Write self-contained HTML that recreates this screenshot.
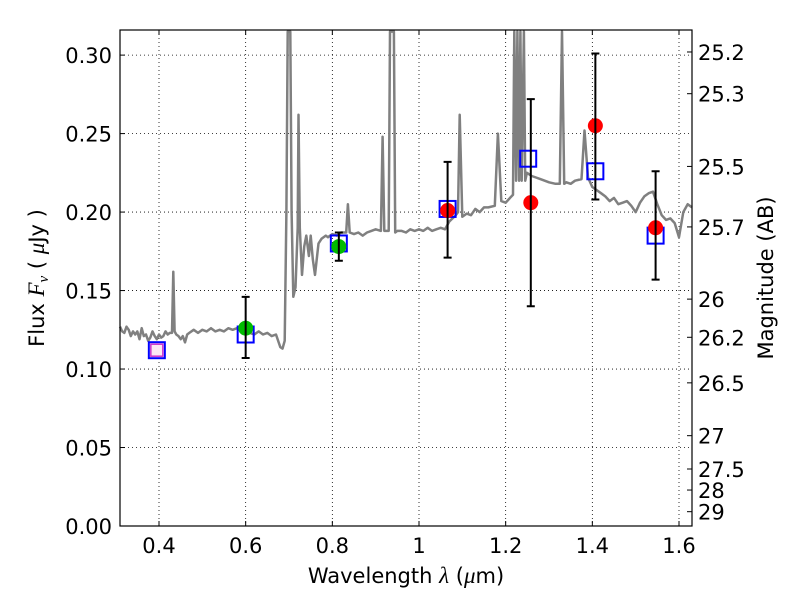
<!DOCTYPE html>
<html><head><meta charset="utf-8">
<style>
body{margin:0;background:#fff;}
svg{display:block;font-family:"DejaVu Sans","Liberation Sans",sans-serif;}
</style></head>
<body>
<svg id="chart" width="800" height="600" viewBox="0 0 800 600" xmlns="http://www.w3.org/2000/svg">
<rect width="800" height="600" fill="#fff"/>
<g id="grid"></g>
<g id="spec"></g>
<g id="marks"></g>
<rect x="120" y="30" width="572" height="496" fill="none" stroke="#000" stroke-width="1.2"/>
<g id="axes" font-size="21" fill="#000"></g>
<text x="406" y="583" font-size="21" text-anchor="middle">Wavelength  <tspan font-style="italic" font-family="Liberation Serif, serif" font-size="23">λ</tspan> (<tspan font-style="italic" font-family="Liberation Serif, serif" font-size="23">μ</tspan>m)</text>
<text transform="translate(44,278) rotate(-90)" font-size="21" text-anchor="middle">Flux  <tspan font-style="italic" font-family="Liberation Serif, serif" font-size="23">F</tspan><tspan font-style="italic" font-family="Liberation Serif, serif" font-size="15" dy="4">ν</tspan><tspan dy="-4">  (  </tspan><tspan font-style="italic" font-family="Liberation Serif, serif" font-size="23">μ</tspan>Jy )</text>
<text transform="translate(773,278) rotate(-90)" font-size="21" text-anchor="middle">Magnitude (AB)</text>
</svg>
<script>
const xTicks=[0.4,0.6,0.8,1.0,1.2,1.4,1.6];
const xTickLabels=["0.4","0.6","0.8","1","1.2","1.4","1.6"];
const yTicks=[0,0.05,0.10,0.15,0.20,0.25,0.30];
const yTickLabels=["0.00","0.05","0.10","0.15","0.20","0.25","0.30"];
const magTicks=[25.2,25.3,25.5,25.7,26,26.2,26.5,27,27.5,28,29];
const magTickLabels=["25.2","25.3","25.5","25.7","26","26.2","26.5","27","27.5","28","29"];
const specLam=[0.31,0.315,0.32,0.325,0.33,0.335,0.34,0.345,0.35,0.355,0.36,0.365,0.37,0.375,0.38,0.385,0.39,0.395,0.40,0.405,0.41,0.415,0.42,0.425,0.43,0.433,0.436,0.44,0.445,0.45,0.455,0.46,0.465,0.47,0.48,0.49,0.50,0.51,0.52,0.53,0.54,0.55,0.56,0.57,0.58,0.59,0.60,0.61,0.62,0.63,0.64,0.65,0.66,0.67,0.68,0.685,0.69,0.694,0.697,0.703,0.706,0.71,0.715,0.72,0.722,0.725,0.73,0.735,0.74,0.746,0.75,0.755,0.76,0.768,0.775,0.785,0.79,0.80,0.81,0.82,0.832,0.836,0.84,0.85,0.86,0.87,0.88,0.89,0.90,0.912,0.916,0.92,0.93,0.933,0.942,0.945,0.95,0.96,0.97,0.98,0.99,1.0,1.01,1.02,1.03,1.04,1.05,1.06,1.07,1.085,1.09,1.094,1.10,1.11,1.12,1.13,1.14,1.15,1.16,1.175,1.182,1.19,1.20,1.21,1.217,1.22,1.224,1.227,1.231,1.234,1.237,1.242,1.245,1.249,1.26,1.27,1.28,1.29,1.30,1.315,1.325,1.33,1.335,1.34,1.35,1.36,1.375,1.382,1.39,1.40,1.41,1.42,1.43,1.44,1.45,1.46,1.47,1.48,1.49,1.50,1.51,1.52,1.53,1.54,1.55,1.56,1.57,1.58,1.59,1.60,1.61,1.62,1.63];
const specFlux=[0.127,0.124,0.123,0.127,0.125,0.121,0.124,0.122,0.124,0.119,0.126,0.121,0.122,0.118,0.120,0.124,0.121,0.119,0.122,0.120,0.121,0.124,0.122,0.123,0.123,0.162,0.124,0.122,0.121,0.119,0.121,0.117,0.122,0.123,0.125,0.123,0.125,0.124,0.126,0.124,0.125,0.124,0.126,0.125,0.126,0.124,0.127,0.123,0.122,0.124,0.122,0.123,0.121,0.122,0.114,0.113,0.118,0.2,0.315,0.315,0.2,0.146,0.152,0.19,0.262,0.19,0.16,0.178,0.185,0.172,0.185,0.17,0.16,0.18,0.183,0.185,0.184,0.186,0.185,0.187,0.187,0.205,0.187,0.186,0.187,0.185,0.187,0.188,0.189,0.188,0.248,0.188,0.188,0.315,0.315,0.187,0.188,0.188,0.187,0.189,0.188,0.189,0.188,0.190,0.188,0.189,0.190,0.189,0.194,0.198,0.200,0.262,0.197,0.199,0.198,0.202,0.200,0.203,0.203,0.204,0.250,0.207,0.206,0.209,0.211,0.315,0.22,0.315,0.22,0.315,0.22,0.315,0.22,0.225,0.223,0.222,0.221,0.220,0.219,0.218,0.218,0.315,0.218,0.219,0.218,0.220,0.221,0.252,0.222,0.216,0.214,0.212,0.210,0.207,0.209,0.205,0.206,0.207,0.204,0.200,0.206,0.210,0.212,0.213,0.205,0.198,0.195,0.196,0.193,0.184,0.200,0.205,0.203,0.204];
const boxLam=[0.395,0.60,0.815,1.066,1.252,1.407,1.546];
const boxFlux=[0.112,0.122,0.180,0.202,0.234,0.226,0.185];
const dotLam=[0.60,0.815,1.066,1.258,1.407,1.546];
const dotFlux=[0.126,0.178,0.201,0.206,0.255,0.190];
const dotHi=[0.146,0.187,0.232,0.272,0.301,0.226];
const dotLo=[0.107,0.169,0.171,0.140,0.208,0.157];
const dotColor=["#00bb00","#00bb00","red","red","red","red"];

const NS="http://www.w3.org/2000/svg";
const X0=120,X1=692,Y0=526,Y1=30,LMIN=0.31,LMAX=1.63,FMIN=0,FMAX=0.316;
const xs=l=>X0+(l-LMIN)/(LMAX-LMIN)*(X1-X0);
const ys=f=>Y0-(f-FMIN)/(FMAX-FMIN)*(Y0-Y1);
const mk=(tag,attrs,parent)=>{const e=document.createElementNS(NS,tag);for(const k in attrs)e.setAttribute(k,attrs[k]);parent.appendChild(e);return e;};
const grid=document.getElementById('grid'),axes=document.getElementById('axes'),spec=document.getElementById('spec'),marks=document.getElementById('marks');
const cy=v=>Math.max(Y1,Math.min(Y0,v));

xTicks.forEach((t,i)=>{
  const x=xs(t);
  const g=mk('line',{x1:x,x2:x,y1:Y1,y2:Y0,stroke:'#000','stroke-width':0.8,'stroke-dasharray':'1,3'},grid);
  
  
  mk('line',{x1:x,x2:x,y1:Y0,y2:Y0-5,stroke:'#000'},axes);
  mk('line',{x1:x,x2:x,y1:Y1,y2:Y1+5,stroke:'#000'},axes);
  const tx=mk('text',{x:x,y:Y0+27,'text-anchor':'middle'},axes);
  tx.textContent=xTickLabels[i];
  
  
});
yTicks.forEach((t,i)=>{
  const y=ys(t);
  const g=mk('line',{x1:X0,x2:X1,y1:y,y2:y,stroke:'#000','stroke-width':0.8,'stroke-dasharray':'1,3'},grid);
  
  
  mk('line',{x1:X0,x2:X0+5,y1:y,y2:y,stroke:'#000'},axes);
  const tx=mk('text',{x:X0-8,y:y+8,'text-anchor':'end'},axes);
  tx.textContent=yTickLabels[i];
  
  
});
magTicks.forEach((m,i)=>{
  const f=Math.pow(10,(23.9-m)/2.5);const y=ys(f);
  mk('line',{x1:X1-5,x2:X1,y1:y,y2:y,stroke:'#000'},axes);
  const tx=mk('text',{x:X1+6,y:y+8,'text-anchor':'start'},axes);
  tx.textContent=magTickLabels[i];
  
  
});

const pts=specLam.map((l,i)=>xs(l).toFixed(1)+','+cy(ys(specFlux[i])).toFixed(1)).join(' ');
const pl=mk('polyline',{points:pts,fill:'none',stroke:'#808080','stroke-width':2.5,'stroke-linejoin':'round'},spec);



boxLam.forEach((l,i)=>{
  const x=xs(l),y=ys(boxFlux[i]);
  const r=mk('rect',{x:x-8,y:y-8,width:16,height:16,fill:'none',stroke:'#0000ff','stroke-width':2},marks);
  
  
  if(i===0){const r2=mk('rect',{x:x-6,y:y-6,width:12,height:12,fill:'#fde8f4',stroke:'#cc33cc','stroke-width':1.5},marks);
    
    }
});
dotLam.forEach((l,i)=>{
  const x=xs(l),y=ys(dotFlux[i]),yh=ys(dotHi[i]),yl=ys(dotLo[i]);
  const c=mk('circle',{cx:x,cy:y,r:7.5,fill:dotColor[i]},marks);
  
  
  const e=mk('path',{d:`M${x},${yh}V${yl}M${x-4},${yh}H${x+4}M${x-4},${yl}H${x+4}`,stroke:'#000','stroke-width':2,fill:'none'},marks);
  
  
});
</script>
</body></html>
